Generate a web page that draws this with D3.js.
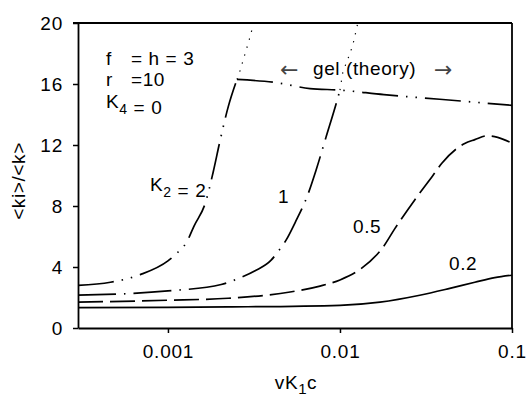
<!DOCTYPE html>
<html>
<head>
<meta charset="utf-8">
<script src="https://cdn.jsdelivr.net/npm/d3@7"></script>
<style>
    body { margin: 0; background: #fff; }
    svg text { font-family: "Liberation Sans", Arial, Helvetica, sans-serif; fill: #000; }
</style>
</head>
<body>
<svg id="chart" width="527" height="396"></svg>
<script>
// axis ticks
var yTicks = [0, 4, 8, 12, 16, 20];
var xTicks = [0.001, 0.01, 0.1];
var xTickLabels = ['0.001', '0.01', '0.1'];

// K2 = 2 (below gel point)
var k2_2X = [0.0003, 0.000463, 0.00069, 0.001, 0.00115, 0.00128, 0.00142, 0.00165, 0.00183, 0.00201, 0.00224, 0.00252];
var k2_2Y = [2.8, 3.0, 3.5, 4.4, 5.0, 5.6, 6.7, 8.2, 10.2, 12.3, 14.5, 16.3];

// K2 = 1
var k2_1X = [0.0003, 0.001, 0.00204, 0.00256, 0.00321, 0.00398, 0.00449, 0.00486, 0.00548, 0.00643, 0.00726, 0.00829, 0.00961, 0.01];
var k2_1Y = [2.15, 2.43, 2.85, 3.24, 3.75, 4.45, 5.2, 5.76, 6.9, 8.6, 10.35, 12.5, 14.9, 15.6];

// K2 = 0.5
var k2_05X = [0.0003, 0.001, 0.00224, 0.00513, 0.00765, 0.01, 0.0131, 0.0178, 0.0208, 0.0229, 0.0272, 0.0347, 0.0391, 0.0531, 0.0608, 0.0713, 0.0826, 0.0968];
var k2_05Y = [1.7, 1.82, 1.95, 2.36, 2.75, 3.15, 3.85, 5.3, 6.5, 7.2, 8.4, 10.0, 10.8, 12.1, 12.35, 12.6, 12.5, 12.2];

// K2 = 0.2
var k2_02X = [0.0003, 0.001, 0.00224, 0.01, 0.0171, 0.0291, 0.0435, 0.0608, 0.0794, 0.1];
var k2_02Y = [1.34, 1.35, 1.38, 1.49, 1.7, 2.15, 2.6, 3.0, 3.3, 3.46];

// gel branch (theory)
var gelX = [0.00252, 0.0042, 0.0067, 0.01, 0.018, 0.038, 0.1];
var gelY = [16.3, 16.1, 15.7, 15.6, 15.3, 15.0, 14.6];

// dotted divergence past the gel point
var div2X = [0.00252, 0.00263, 0.00304, 0.00313];
var div2Y = [16.3, 16.9, 19.3, 20];
var div1X = [0.01, 0.0104, 0.01143, 0.0119, 0.0127];
var div1Y = [15.6, 16.8, 18.0, 18.6, 20];

var margin = {top: 23, right: 15, bottom: 68, left: 78},
    width = 527 - margin.left - margin.right,
    height = 396 - margin.top - margin.bottom;

var svg = d3.select('#chart'),
    g = svg.append('g').attr('transform', 'translate(' + margin.left + ',' + margin.top + ')');

var x = d3.scaleLog().domain([0.0003, 0.1]).range([0, width]),
    y = d3.scaleLinear().domain([0, 20]).range([height, 0]);

var zip = function(xs, ys) {
    return xs.map(function(d, i) { return [d, ys[i]]; });
};

// axes
var yAxis = g.append('g')
    .call(d3.axisLeft(y).tickValues(yTicks).tickSize(5).tickSizeOuter(0).tickPadding(10));
var xAxis = g.append('g').attr('transform', 'translate(0,' + height + ')')
    .call(d3.axisBottom(x).tickValues(xTicks).tickSize(5).tickSizeOuter(0)
        .tickFormat(function(d, i) { return xTickLabels[i]; }));

[yAxis, xAxis].forEach(function(ax) {
    ax.attr('font-size', null).attr('font-family', null);
    ax.select('.domain').attr('stroke', '#000').attr('stroke-width', 1.8);
    ax.selectAll('.tick line').attr('stroke', '#000').attr('stroke-width', 1.5);
    ax.selectAll('.tick text').style('font-size', '19px').style('letter-spacing', '0.8px');
});
yAxis.selectAll('.tick text').attr('dy', '0.36em');
xAxis.selectAll('.tick text').attr('y', 30).attr('dy', 0);

// box
g.append('line').attr('x1', -5).attr('x2', width).attr('y1', 0).attr('y2', 0)
    .attr('stroke', '#000').attr('stroke-width', 1.8);
g.append('line').attr('x1', width).attr('x2', width).attr('y1', 0).attr('y2', height)
    .attr('stroke', '#000').attr('stroke-width', 1.8);

// curves
var smooth = d3.line().x(function(d) { return x(d[0]); }).y(function(d) { return y(d[1]); })
    .curve(d3.curveMonotoneX);
var straight = d3.line().x(function(d) { return x(d[0]); }).y(function(d) { return y(d[1]); });

var dashDotDot = '36,8,1.5,8,1.5,8';
var series = [
    {data: zip(k2_2X, k2_2Y),   dash: dashDotDot,     line: smooth},
    {data: zip(gelX, gelY),     dash: dashDotDot,     line: smooth},
    {data: zip(k2_1X, k2_1Y),   dash: '38,8,1.5,8',   line: smooth},
    {data: zip(k2_05X, k2_05Y), dash: '25,7',         line: smooth},
    {data: zip(k2_02X, k2_02Y), dash: null,           line: smooth},
    {data: zip(div2X, div2Y),   dash: '1.3,7',        line: straight, w: 1.2},
    {data: zip(div1X, div1Y),   dash: '1.3,7',        line: straight, w: 1.2}
];

series.forEach(function(s) {
    g.append('path')
        .attr('d', s.line(s.data))
        .attr('fill', 'none')
        .attr('stroke', '#000')
        .attr('stroke-width', s.w || 1.7)
        .attr('stroke-dasharray', s.dash);
});

// text helper: plain strings, or {sub: '..'} for a subscript
var label = function(px, py, parts) {
    var t = svg.append('text').attr('x', px).attr('y', py)
        .style('font-size', '19px').style('letter-spacing', '0.6px');
    parts.forEach(function(p) {
        if (typeof p === 'object') {
            t.append('tspan').attr('dy', 6).style('font-size', '14px').text(p.sub);
            t.append('tspan').attr('dy', -6).text('');
        } else {
            t.append('tspan').text(p);
        }
    });
    return t;
};

// parameter block
label(106, 65, ['f']);
label(131, 65, ['= h = 3']);
label(106, 86, ['r']);
label(131, 86, ['=10']);
label(106, 108, ['K', {sub: '4'}, ' = 0']);

// curve labels
label(150, 191, ['K', {sub: '2'}, ' = 2']);
label(278, 203, ['1']);
label(353, 233, ['0.5']);
label(449, 270, ['0.2']);

// gel annotation, arrows from DejaVu so they come out full width
label(313, 75, ['gel (theory)']);
[[280, '\u2190'], [434, '\u2192']].forEach(function(a) {
    svg.append('text').attr('x', a[0]).attr('y', 77)
        .style('font-family', '"DejaVu Sans", sans-serif')
        .style('font-size', '22px').style('fill', '#444')
        .text(a[1]);
});

// axis titles
svg.append('text')
    .attr('transform', 'translate(25,181) rotate(-90)')
    .attr('text-anchor', 'middle')
    .style('font-size', '19px').style('letter-spacing', '0.6px')
    .text('<ki>/<k>');

var xt = svg.append('text').attr('x', 296).attr('y', 389).attr('text-anchor', 'middle')
    .style('font-size', '19px').style('letter-spacing', '0.6px');
xt.append('tspan').text('vK');
xt.append('tspan').attr('dy', 5).style('font-size', '15px').text('1');
xt.append('tspan').attr('dy', -5).text('c');
</script>
</body>
</html>
